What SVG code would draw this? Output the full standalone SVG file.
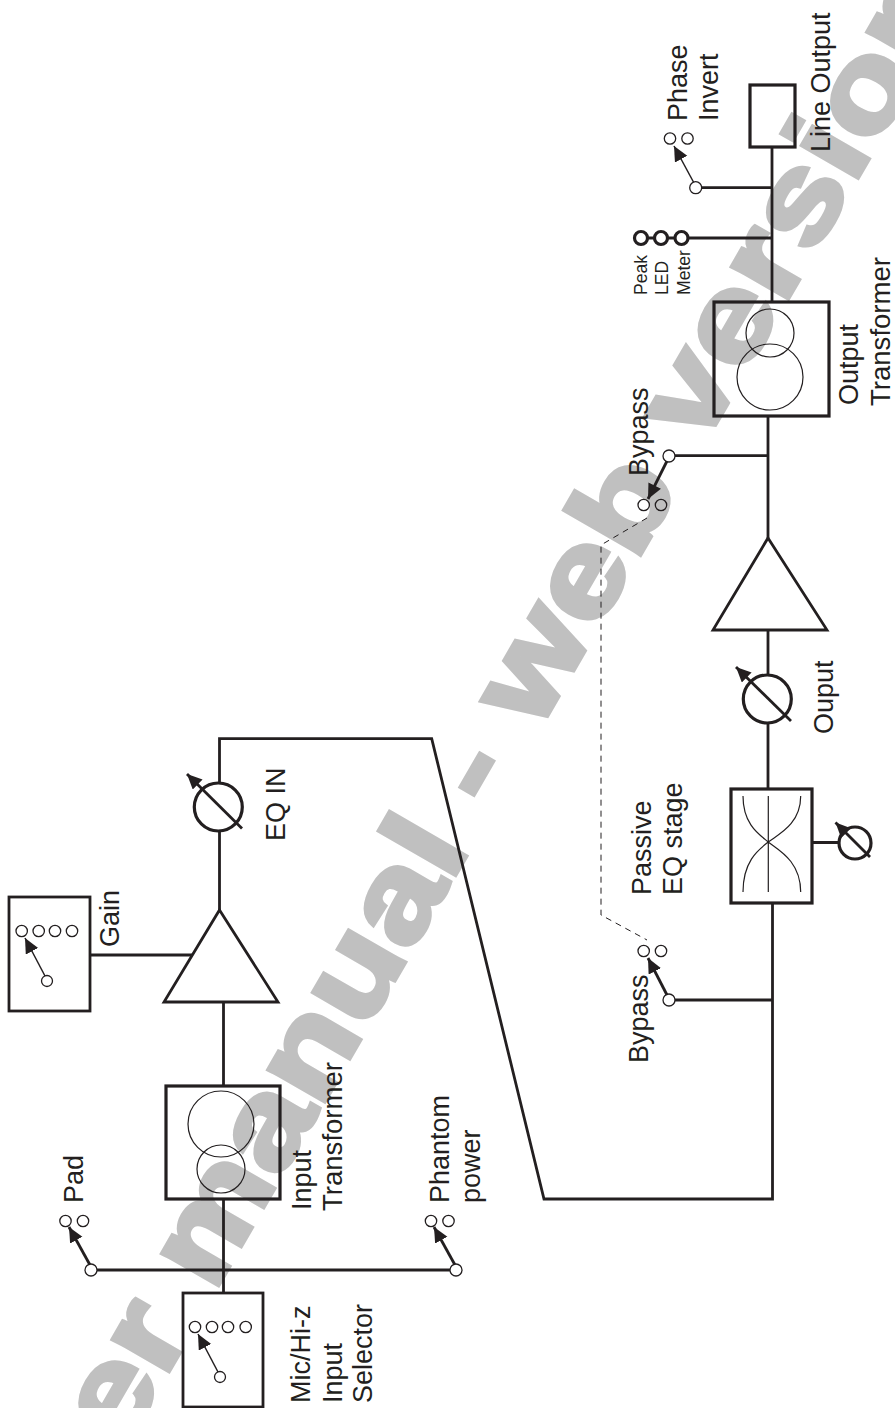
<svg xmlns="http://www.w3.org/2000/svg" width="895" height="1408" viewBox="0 0 895 1408">
<defs>
<marker id="ah" markerUnits="userSpaceOnUse" markerWidth="17" markerHeight="16" refX="15" refY="7" orient="auto"><path d="M0,0 L15,7 L0,14 Z" fill="#231f20"/></marker>
<style>
text{font-family:"Liberation Sans",Arial,sans-serif;fill:#231f20;font-size:27px}
text.wm{font-weight:bold;font-size:121px;fill:#c0c0c0;stroke:#c0c0c0;stroke-width:5;letter-spacing:1px}
text.sm{font-size:17.6px}
.b3{fill:none;stroke:#231f20;stroke-width:3.2}
.b2{fill:none;stroke:#231f20;stroke-width:2.8}
.w{fill:none;stroke:#231f20;stroke-width:2.8}
.t{fill:none;stroke:#231f20;stroke-width:1.2}
.c{fill:#fff;stroke:#231f20;stroke-width:1.3}
.o{fill:none;stroke:#231f20;stroke-width:1.3}
.arr{fill:none;stroke:#231f20;stroke-width:1.5;marker-end:url(#ah)}
.arb{fill:none;stroke:#231f20;stroke-width:2.8;marker-end:url(#ah)}
.d{fill:none;stroke:#231f20;stroke-width:1;stroke-dasharray:6 5}
</style>
</defs>
<rect width="895" height="1408" fill="#fff"/>
<text class="wm" transform="translate(123,1450) rotate(-60) scale(1.2,1)">er manual - web version</text>
<g id="connectors">
<path class="w" d="M223.5,1002V1086M223.5,1199V1293M91,1270H456M90,955H192M219.5,910V832M219.5,782V738.7H431.7L544,1199H772.5V903M768,788V723M768,675V630M768,538V416M768,455.7H669M772,302V147M772,187.7H696M772,238H647M772,1000H669M812,842.5H840"/>
<path class="d" d="M647,518L601,545V915L647,940"/>
</g>
<g id="mic-selector"><rect class="b2" x="183" y="1293" width="80" height="114"/><circle class="c" cx="195" cy="1327" r="5.7"/><circle class="c" cx="212" cy="1327" r="5.7"/><circle class="c" cx="228" cy="1327" r="5.7"/><circle class="c" cx="245.7" cy="1327" r="5.7"/><circle class="c" cx="220" cy="1377" r="5.5"/><path class="arr" d="M218,1372L198,1334"/>
<text transform="translate(310,1403) rotate(-90)">Mic/Hi-z</text><text transform="translate(342,1403) rotate(-90)">Input</text><text transform="translate(372,1403) rotate(-90)">Selector</text></g>
<g id="pad"><circle class="c" cx="65.5" cy="1221" r="5.7"/><circle class="o" cx="83" cy="1221" r="5.7"/><path class="arb" d="M90,1265L69,1227"/><circle class="c" cx="91" cy="1270" r="6"/><text transform="translate(83,1203) rotate(-90)">Pad</text></g>
<g id="phantom"><circle class="c" cx="431" cy="1221" r="5.7"/><circle class="o" cx="448.5" cy="1221" r="5.7"/><path class="arb" d="M455,1265L434,1227"/><circle class="c" cx="456" cy="1270" r="6"/><text transform="translate(449,1203) rotate(-90)">Phantom</text><text transform="translate(480,1203) rotate(-90)">power</text></g>
<g id="input-transformer"><rect class="b3" x="166" y="1086" width="114" height="113"/><circle class="t" cx="221" cy="1124" r="33"/><circle class="t" cx="221" cy="1169" r="24"/><text transform="translate(311,1210) rotate(-90)">Input</text><text transform="translate(342,1211) rotate(-90)" textLength="149" lengthAdjust="spacingAndGlyphs">Transformer</text></g>
<g id="amp1"><path class="b2" d="M219.5,910L278,1002H164Z"/></g>
<g id="gain"><rect class="b2" x="9" y="897" width="81" height="114"/><circle class="c" cx="21.7" cy="931" r="5.7"/><circle class="c" cx="38.7" cy="931" r="5.7"/><circle class="c" cx="55" cy="931" r="5.7"/><circle class="c" cx="72" cy="931" r="5.7"/><circle class="c" cx="47" cy="981" r="5.5"/><path class="arr" d="M45,976L25,938"/><text transform="translate(119,947) rotate(-90)">Gain</text></g>
<g id="eq-in"><circle class="b3" cx="218.3" cy="807" r="24"/><path class="arb" d="M242,828.5L187,774"/><text transform="translate(285,841) rotate(-90)">EQ IN</text></g>
<g id="bypass-lower"><circle class="c" cx="643.7" cy="951" r="5.7"/><circle class="o" cx="661" cy="951" r="5.7"/><path class="arb" d="M667,995L648,958"/><circle class="c" cx="669" cy="1000" r="6"/><text transform="translate(648,1063) rotate(-90)">Bypass</text></g>
<g id="eq-stage"><rect class="b3" x="731" y="789" width="81" height="114"/><path class="t" d="M768.3,796V892M743,796C743,825 760,835 768.3,842S800.7,860 800.7,892M800.7,796C800.7,825 777,835 768.3,842S743,860 743,892"/><circle class="b3" cx="855" cy="843" r="16"/><path class="arb" d="M870,857L835.5,822.5"/><text transform="translate(651,895) rotate(-90)">Passive</text><text transform="translate(682,895) rotate(-90)">EQ stage</text></g>
<g id="output-pot"><circle class="b3" cx="767.3" cy="699" r="24"/><path class="arb" d="M791,721L736,667"/><text transform="translate(833,734) rotate(-90)">Ouput</text></g>
<g id="amp2"><path class="b2" d="M768,538L827,630H713Z"/></g>
<g id="bypass-upper"><circle class="c" cx="643.7" cy="505" r="5.7"/><circle class="o" cx="661" cy="505" r="5.7"/><path class="arb" d="M667,461L648,499"/><circle class="c" cx="669" cy="456" r="6"/><text transform="translate(648,476) rotate(-90)">Bypass</text></g>
<g id="output-transformer"><rect class="b3" x="714" y="302" width="115" height="114"/><circle class="t" cx="770" cy="377" r="33"/><circle class="t" cx="770" cy="333" r="24"/><text transform="translate(858,405) rotate(-90)">Output</text><text transform="translate(890,406) rotate(-90)" textLength="149" lengthAdjust="spacingAndGlyphs">Transformer</text></g>
<g id="peak-led"><circle class="b3" cx="641" cy="238" r="6.5" style="fill:#fff"/><circle class="b3" cx="661" cy="238" r="6.5" style="fill:#fff"/><circle class="b3" cx="681.5" cy="238" r="6.5" style="fill:#fff"/><text class="sm" transform="translate(647,295) rotate(-90)">Peak</text><text class="sm" transform="translate(668,295) rotate(-90)">LED</text><text class="sm" transform="translate(690,295) rotate(-90)">Meter</text></g>
<g id="phase-invert"><circle class="c" cx="670" cy="138.5" r="5.7"/><circle class="o" cx="687.5" cy="138.5" r="5.7"/><path class="arr" d="M694,183L674,146"/><circle class="c" cx="695.7" cy="187.7" r="6"/><text transform="translate(687,121) rotate(-90)">Phase</text><text transform="translate(718,121) rotate(-90)">Invert</text></g>
<g id="line-output"><rect class="b3" x="750" y="85" width="45" height="62"/><text transform="translate(830,152) rotate(-90)">Line Output</text></g>
</svg>
